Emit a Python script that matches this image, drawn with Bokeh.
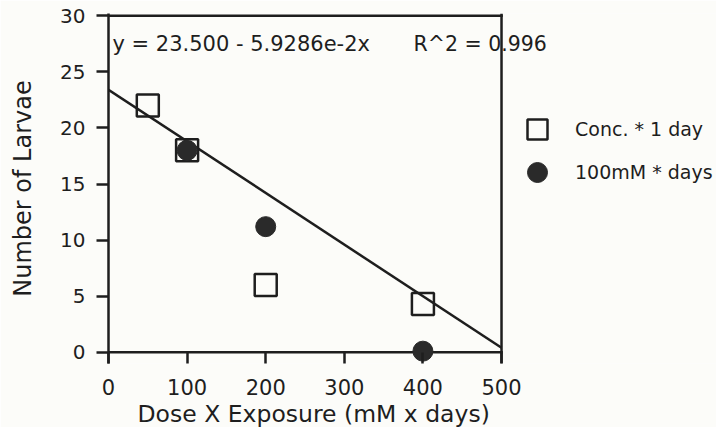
from bokeh.plotting import figure
from bokeh.models import (Range1d, FixedTicker, Span, Label, Legend, LegendItem, Title)
from bokeh.embed import file_html
from bokeh.resources import INLINE

# ---- data ----
conc_x = [50, 100, 200, 400]
conc_y = [22.0, 18.0, 6.0, 4.3]
days_x = [100, 200, 400]
days_y = [18.0, 11.2, 0.1]
# regression line as drawn in the reference (end points)
fit_x = [0, 500]
fit_y = [23.4, 0.4]
x_ticks = [0, 100, 200, 300, 400, 500]
y_ticks = [0, 5, 10, 15, 20, 25, 30]
eq_text = "y = 23.500  -  5.9286e-2x"
r2_text = "R^2 = 0.996"
x_title = "Dose X Exposure (mM x days)"
y_title = "Number of Larvae"
legend_labels = ["Conc. * 1 day", "100mM * days"]

INK = "#1e1e1e"
BG = "#fcfcf9"
FONT = "DejaVu Sans"

# frame runs to the right edge so that the texts beyond x = 500 are not clipped
p = figure(width=716, height=427, output_backend="svg", toolbar_location=None,
           x_range=Range1d(0, 773.5), y_range=Range1d(-1, 30.2),
           min_border_left=108, min_border_right=0, min_border_top=13, min_border_bottom=64,
           background_fill_color=BG, border_fill_color=BG, outline_line_color=None)
p.grid.visible = False

# left axis
ya = p.yaxis[0]
ya.ticker = FixedTicker(ticks=y_ticks)
ya.major_tick_out = 12
ya.major_tick_in = 0
ya.minor_tick_out = 0
ya.minor_tick_in = 0
ya.axis_line_width = 2.5
ya.axis_line_color = INK
ya.major_tick_line_width = 2.5
ya.major_tick_line_color = INK
ya.major_label_text_font = FONT
ya.major_label_text_font_size = "20px"
ya.major_label_text_color = INK
ya.major_label_standoff = 11
ya.axis_label = y_title
ya.axis_label_text_font = FONT
ya.axis_label_text_font_size = "24px"
ya.axis_label_text_font_style = "normal"
ya.axis_label_text_color = INK
ya.axis_label_standoff = 20

# bottom axis (ticks only; the line at y = 0 is drawn separately)
xa = p.xaxis[0]
xa.ticker = FixedTicker(ticks=x_ticks)
xa.axis_line_color = None
xa.major_tick_in = 11
xa.major_tick_out = 0
xa.minor_tick_out = 0
xa.minor_tick_in = 0
xa.major_tick_line_width = 2.5
xa.major_tick_line_color = INK
xa.major_label_text_font = FONT
xa.major_label_text_font_size = "21px"
xa.major_label_text_color = INK
xa.major_label_standoff = 15

p.add_layout(Title(text=x_title, align="left", offset=29, standoff=0,
                   text_font=FONT, text_font_size="23.5px", text_font_style="normal",
                   text_color=INK), "below")

# frame lines: bottom (y = 0), top (y = 30) and right (x = 500)
x0, x1 = x_ticks[0], x_ticks[-1]
p.segment(x0=[x0, x0], y0=[y_ticks[0], y_ticks[-1]], x1=[x1, x1], y1=[y_ticks[0], y_ticks[-1]],
          line_color=INK, line_width=2.5, line_cap="square")
p.add_layout(Span(location=x1, dimension="height", line_color=INK, line_width=2.5))

# regression line
p.line(fit_x, fit_y, line_color=INK, line_width=2.5)

sq = p.scatter(conc_x, conc_y, marker="square", size=22, fill_color=None,
               line_color=INK, line_width=2.5)
ci = p.scatter(days_x, days_y, marker="circle", size=20, fill_color="#2a2a2a",
               line_color="#2a2a2a", line_width=1)

p.add_layout(Label(x=5, y=27.5, text=eq_text, text_font=FONT, text_font_size="21px",
                   text_color=INK, text_baseline="alphabetic"))
p.add_layout(Label(x=388, y=27.5, text=r2_text, text_font=FONT, text_font_size="20.5px",
                   text_color=INK, text_baseline="alphabetic"))

legend_style = dict(glyph_width=50, glyph_height=50, label_standoff=13, padding=0, margin=0,
                    border_line_color=None, background_fill_alpha=0,
                    label_text_font=FONT, label_text_font_size="19px", label_text_color=INK)
leg1 = Legend(items=[LegendItem(label=legend_labels[0], renderers=[sq])],
              location=(404, 209), **legend_style)
leg2 = Legend(items=[LegendItem(label=legend_labels[1], renderers=[ci])],
              location=(404, 166), **legend_style)
p.add_layout(leg1, "center")
p.add_layout(leg2, "center")

open("out.html", "w").write(file_html(p, INLINE))
